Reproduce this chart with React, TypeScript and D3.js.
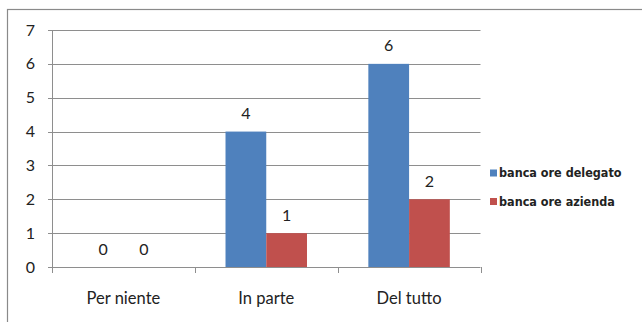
import React from "react";
import * as d3 from "d3";

const categories = ["Per niente", "In parte", "Del tutto"];
const seriesNames = ["banca ore delegato", "banca ore azienda"];
const delegato = [0, 4, 6];
const azienda = [0, 1, 2];
const yTicks = [0, 1, 2, 3, 4, 5, 6, 7];
const colors = ["#4F81BD", "#C0504D"];

export default function App() {
  const W = 642, H = 322;
  const left = 52, right = 480.5, top = 30, bottom = 267;
  const x = d3.scaleBand<string>().domain(categories).range([left, right]).paddingInner(0).paddingOuter(0);
  const xs = d3.scaleBand<string>().domain(seriesNames).range([0, x.bandwidth()]).paddingInner(0).paddingOuter(0.753);
  const y = d3.scaleLinear().domain([0, 7]).range([bottom, top]);
  const series = [delegato, azienda];
  const font = "Lato, 'Open Sans', sans-serif";
  const boundaries = [...categories.map((c) => x(c)!), right];

  return (
    <div style={{ position: "fixed", left: 0, top: 0 }}>
      <svg width={W} height={H} style={{ display: "block", background: "#fff" }}>
        <rect x={7.5} y={9.5} width={700} height={400} fill="#fff" stroke="#8a8a8a" strokeWidth={1.2} />
        {yTicks.map((t) => (
          <g key={t}>
            <line x1={left - 4} x2={right} y1={Math.round(y(t)) + 0.5} y2={Math.round(y(t)) + 0.5} stroke="#8e8e8e" strokeWidth={1} />
            <text x={35} y={y(t)} dy="0.35em" textAnchor="end" fontFamily={font} fontSize={16} fill="#222">{t}</text>
          </g>
        ))}
        <line x1={left + 0.5} x2={left + 0.5} y1={top} y2={bottom + 6} stroke="#8e8e8e" />
        {boundaries.map((b, i) => (
          <line key={i} x1={Math.round(b) + 0.5} x2={Math.round(b) + 0.5} y1={bottom} y2={bottom + 6} stroke="#8e8e8e" />
        ))}
        {categories.map((c, ci) =>
          series.map((s, si) => {
            const bx = x(c)! + xs(seriesNames[si])!;
            const v = s[ci];
            return (
              <g key={c + si}>
                {v > 0 && (
                  <rect x={bx} y={y(v)} width={xs.bandwidth()} height={y(0) - y(v)} fill={colors[si]} />
                )}
                <text x={bx + xs.bandwidth() / 2} y={y(v) - 18} dy="0.35em" textAnchor="middle" fontFamily={font} fontSize={16} fill="#222">{v}</text>
              </g>
            );
          })
        )}
        {categories.map((c) => (
          <text key={c} x={x(c)! + x.bandwidth() / 2} y={298} dy="0.35em" textAnchor="middle" fontFamily={font} fontSize={16.5} fill="#222">{c}</text>
        ))}
        {seriesNames.map((n, i) => (
          <g key={n}>
            <rect x={490} y={[169.5, 198][i]} width={7} height={7} fill={colors[i]} />
            <text x={499} y={[173, 201.5][i]} dy="0.35em" fontFamily="'Liberation Sans Narrow', 'DejaVu Sans Condensed', sans-serif" fontWeight="bold" fontSize={12.5} fill="#222">{n}</text>
          </g>
        ))}
      </svg>
    </div>
  );
}
